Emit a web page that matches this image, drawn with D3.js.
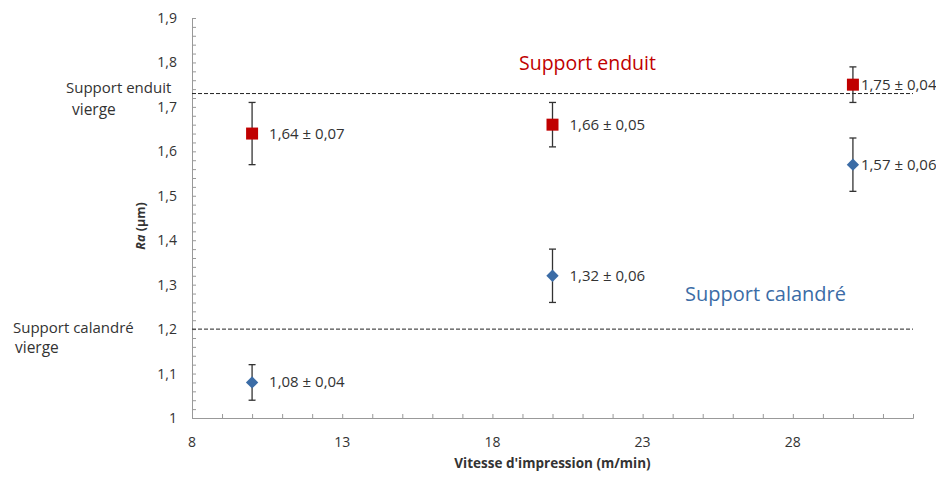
<!DOCTYPE html>
<html>
<head>
<meta charset="utf-8">
<script src="https://cdn.jsdelivr.net/npm/d3@7"></script>
<style>
  body { margin: 0; background: #fff; }
  svg text { font-family: "Open Sans", "Noto Sans", sans-serif; fill: #333; }
</style>
</head>
<body>
<div id="chart"></div>
<script>
// data
const speeds = [10, 20, 30];
const enduitRa = [1.64, 1.66, 1.75];
const enduitErr = [0.07, 0.05, 0.04];
const calandreRa = [1.08, 1.32, 1.57];
const calandreErr = [0.04, 0.06, 0.06];
const xTicks = [8, 13, 18, 23, 28];
const yTicks = [1, 1.1, 1.2, 1.3, 1.4, 1.5, 1.6, 1.7, 1.8, 1.9];
const refEnduit = 1.73;
const refCalandre = 1.2;

const width = 936, height = 477;
const margin = { left: 192, right: 23, top: 18, bottom: 59 };

const svg = d3.select("#chart").append("svg")
  .attr("width", width)
  .attr("height", height);

const x = d3.scaleLinear().domain([8, 32]).range([margin.left, width - margin.right]);
const y = d3.scaleLinear().domain([1, 1.9]).range([height - margin.bottom, margin.top]);

const fmt = (v) => d3.format(".2f")(v).replace(".", ",");
const fmt1 = (v) => (v === 1 ? "1" : d3.format(".1f")(v).replace(".", ","));

// axes
const gx = svg.append("g").attr("transform", `translate(0,${y(1)})`);
gx.call(d3.axisBottom(x).tickValues(d3.range(8, 33, 1)).tickSize(-4).tickFormat(""));
gx.selectAll("line").attr("stroke", "#999");
gx.select(".domain").attr("stroke", "#999");
gx.selectAll(".lbl").data(xTicks).join("text")
  .attr("class", "lbl")
  .attr("x", (d) => x(d))
  .attr("y", 29)
  .attr("text-anchor", "middle")
  .attr("font-size", 14)
  .text((d) => d);

const gy = svg.append("g").attr("transform", `translate(${x(8)},0)`);
gy.call(d3.axisLeft(y).tickValues(d3.range(0, 46).map((i) => 1 + i * 0.02)).tickSize(-4).tickFormat(""));
gy.selectAll("line").attr("stroke", "#999");
gy.select(".domain").attr("stroke", "#999");
gy.selectAll(".lbl").data(yTicks).join("text")
  .attr("class", "lbl")
  .attr("x", -15)
  .attr("y", (d) => y(d) + 5)
  .attr("text-anchor", "end")
  .attr("font-size", 14)
  .text(fmt1);

// axis titles
svg.append("text")
  .attr("x", x(20))
  .attr("y", 468)
  .attr("text-anchor", "middle")
  .attr("font-size", 13.5)
  .attr("font-weight", "bold")
  .text("Vitesse d'impression (m/min)");

const yt = svg.append("text")
  .attr("transform", `translate(145,226) rotate(-90)`)
  .attr("text-anchor", "middle")
  .attr("font-size", 12.5)
  .attr("font-weight", "bold");
yt.append("tspan").attr("font-style", "italic").text("Ra");
yt.append("tspan").text(" (µm)");

// reference lines
[refEnduit, refCalandre].forEach((v) => {
  svg.append("line")
    .attr("x1", x(8)).attr("x2", x(32))
    .attr("y1", y(v)).attr("y2", y(v))
    .attr("stroke", "#222")
    .attr("stroke-dasharray", "4,2");
});

const leftLabels = [
  { lines: ["Support enduit", "vierge"], v: refEnduit, x0: 66, x1: 72, dy: -1, dy2: 21 },
  { lines: ["Support calandré", "vierge"], v: refCalandre, x0: 13, x1: 15, dy: 4, dy2: 24 },
];
leftLabels.forEach((l) => {
  svg.append("text").attr("x", l.x0).attr("y", y(l.v) + l.dy).attr("font-size", 15).text(l.lines[0]);
  svg.append("text").attr("x", l.x1).attr("y", y(l.v) + l.dy2).attr("font-size", 15.5).text(l.lines[1]);
});

// series labels
svg.append("text").attr("x", 519).attr("y", 70)
  .attr("font-size", 19.5).style("fill", "#c00000").text("Support enduit");
svg.append("text").attr("x", 685).attr("y", 301)
  .attr("font-size", 20).style("fill", "#3b6ca6").text("Support calandré");

// error bars + markers
function drawSeries(vals, errs, shape, color) {
  const g = svg.append("g");
  speeds.forEach((s, i) => {
    const cx = x(s), v = vals[i], e = errs[i];
    g.append("line").attr("x1", cx).attr("x2", cx)
      .attr("y1", y(v - e)).attr("y2", y(v + e))
      .attr("stroke", "#333").attr("stroke-width", 1.3);
    [v - e, v + e].forEach((t) => {
      g.append("line").attr("x1", cx - 3.5).attr("x2", cx + 3.5)
        .attr("y1", y(t)).attr("y2", y(t))
        .attr("stroke", "#333").attr("stroke-width", 1.3);
    });
    g.append("path")
      .attr("transform", `translate(${cx},${y(v)})${shape === "diamond" ? " rotate(45)" : ""}`)
      .attr("d", shape === "diamond" ? d3.symbol(d3.symbolSquare, 76)() : d3.symbol(d3.symbolSquare, 144)())
      .attr("fill", color);
    const dx = i === 2 ? 8 : 17;
    g.append("text")
      .attr("x", cx + dx)
      .attr("y", y(v) + 5)
      .attr("font-size", 15)
      .text(`${fmt(v)} ± ${fmt(e)}`);
  });
}
drawSeries(enduitRa, enduitErr, "square", "#c00000");
drawSeries(calandreRa, calandreErr, "diamond", "#3b6ca6");
</script>
</body>
</html>
